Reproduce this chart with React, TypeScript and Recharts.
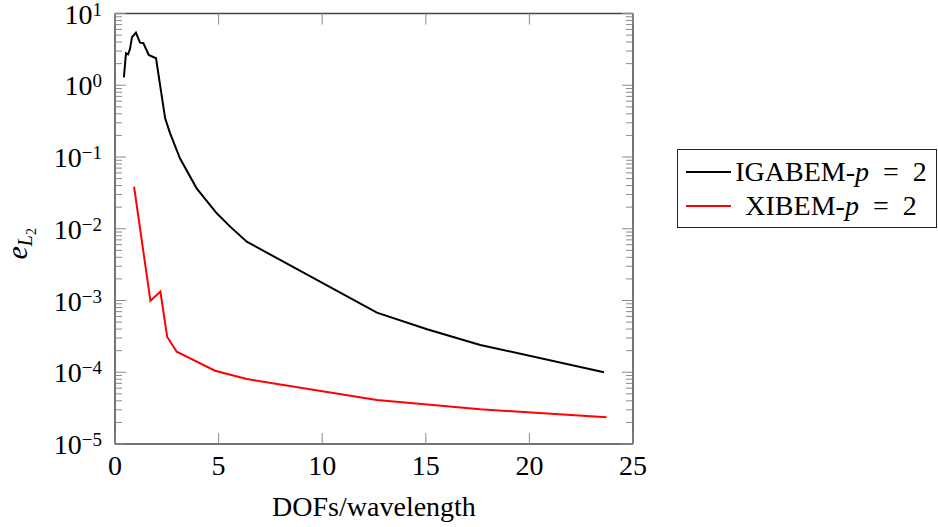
import React from 'react';
import { LineChart, Line, XAxis, YAxis, Legend, Label } from 'recharts';

// DOFs per wavelength and L2 error
const igabemDofs = [0.43, 0.53, 0.63, 0.72, 0.82, 1.01, 1.21, 1.37, 1.63, 1.98, 2.42, 2.66, 3.14, 3.94, 4.91, 5.56, 6.36, 12.64, 15.06, 17.63, 23.6];
const igabemErr = [1.29, 2.79, 2.7, 3.17, 4.66, 5.4, 3.92, 3.85, 2.64, 2.38, 0.346, 0.214, 0.095, 0.0366, 0.0164, 0.0107, 0.0066, 6.76e-4, 3.97e-4, 2.4e-4, 1.0e-4];

const xibemDofs = [0.92, 1.71, 2.19, 2.52, 2.98, 4.83, 6.36, 12.64, 17.63, 23.72];
const xibemErr = [0.0385, 9.9e-4, 1.33e-3, 3.1e-4, 1.93e-4, 1.05e-4, 8.05e-5, 4.1e-5, 3.04e-5, 2.36e-5];

const seriesNames = ['IGABEM-p = 2', 'XIBEM-p = 2'];
const seriesColors = ['#000000', '#ff0000'];

const xTicks = [0, 5, 10, 15, 20, 25];
const yExponents = [-5, -4, -3, -2, -1, 0, 1];

const yAll: number[] = [];
yExponents.forEach((e, i) => {
  yAll.push(Math.pow(10, e));
  if (i < yExponents.length - 1) {
    for (let m = 2; m <= 9; m++) yAll.push(m * Math.pow(10, e));
  }
});

const igabemData = igabemDofs.map((x, i) => ({ x, y: igabemErr[i] }));
const xibemData = xibemDofs.map((x, i) => ({ x, y: xibemErr[i] }));

const FONT = '"Liberation Serif", "Times New Roman", serif';
const TICK = '#8a8a8a';
const AXIS = '#444';

const isMajor = (v: number) => {
  const e = Math.log10(v);
  return Math.abs(e - Math.round(e)) < 1e-6;
};

const LeftTick = (props: any) => {
  const { x, y, payload } = props;
  const v = payload.value;
  const major = isMajor(v);
  const exp = Math.round(Math.log10(v));
  return (
    <g>
      <line x1={x} x2={x + (major ? 11 : 7)} y1={y} y2={y} stroke={TICK} strokeWidth={1} />
      {major && (
        <text x={x - 13} y={y + 10} textAnchor="end" fontFamily={FONT} fontSize={28} fill="#000">
          10
          <tspan dy={-8} fontSize={19}>{exp < 0 ? '\u2212' + Math.abs(exp) : String(exp)}</tspan>
        </text>
      )}
    </g>
  );
};

const RightTick = (props: any) => {
  const { x, y, payload } = props;
  const major = isMajor(payload.value);
  return <line x1={x} x2={x - (major ? 11 : 7)} y1={y} y2={y} stroke={TICK} strokeWidth={1} />;
};

const BottomTick = (props: any) => {
  const { x, y, payload } = props;
  return (
    <g>
      <line x1={x} x2={x} y1={y} y2={y - 11} stroke={TICK} strokeWidth={1} />
      <text x={x} y={y + 31} textAnchor="middle" fontFamily={FONT} fontSize={28} fill="#000">
        {payload.value}
      </text>
    </g>
  );
};

const TopTick = (props: any) => {
  const { x, y } = props;
  return <line x1={x} x2={x} y1={y} y2={y + 11} stroke={TICK} strokeWidth={1} />;
};

const renderLegend = (props: any) => {
  const { payload } = props;
  return (
    <div
      style={{
        border: '1px solid #222',
        background: '#fff',
        width: 260,
        height: 79,
        boxSizing: 'border-box',
        paddingTop: 5,
        paddingLeft: 8,
        fontFamily: FONT,
        fontSize: 28,
        color: '#000',
      }}
    >
      {payload.map((entry: any) => {
        const [name, rest] = String(entry.value).split('-p');
        return (
          <div key={entry.value} style={{ display: 'flex', alignItems: 'center', height: 34 }}>
            <svg width={45} height={6} style={{ display: 'block' }}>
              <line x1={0} x2={45} y1={3} y2={3} stroke={entry.color} strokeWidth={2} />
            </svg>
            <span style={{ width: 200, textAlign: 'center', lineHeight: '34px', whiteSpace: 'pre' }}>
              {name}-<i>p</i>
              {rest.replace(' = ', '\u2002=\u2002')}
            </span>
          </div>
        );
      })}
    </div>
  );
};

export default function App() {
  return (
    <div style={{ position: 'absolute', left: 0, top: 0, width: 938, height: 527, background: '#fff' }}>
      <LineChart width={938} height={527} margin={{ top: 12.5, right: 304, bottom: 0, left: 0 }}>
        <XAxis
          xAxisId="b"
          type="number"
          dataKey="x"
          domain={[0, 25]}
          ticks={xTicks}
          interval={0}
          allowDataOverflow
          height={83}
          tickSize={0}
          tickMargin={0}
          tickLine={false}
          axisLine={{ stroke: AXIS, strokeWidth: 1.5 }}
          tick={(p: any) => <BottomTick {...p} />}
        >
          <Label
            content={(p: any) => {
              const vb = p.viewBox;
              return (
                <text x={vb.x + vb.width / 2} y={vb.y + 72} textAnchor="middle" fontFamily={FONT} fontSize={28} fill="#000">
                  DOFs/wavelength
                </text>
              );
            }}
          />
        </XAxis>
        <XAxis
          xAxisId="t"
          orientation="top"
          type="number"
          dataKey="x"
          domain={[0, 25]}
          ticks={xTicks}
          interval={0}
          allowDataOverflow
          height={1}
          tickSize={0}
          tickMargin={0}
          tickLine={false}
          axisLine={{ stroke: AXIS, strokeWidth: 1.5 }}
          tick={(p: any) => <TopTick {...p} />}
        />
        <YAxis
          yAxisId="l"
          type="number"
          scale="log"
          domain={[1e-5, 10]}
          ticks={yAll}
          interval={0}
          allowDataOverflow
          width={115}
          tickSize={0}
          tickMargin={0}
          tickLine={false}
          axisLine={{ stroke: AXIS, strokeWidth: 1.5 }}
          tick={(p: any) => <LeftTick {...p} />}
        >
          <Label
            content={(p: any) => {
              const vb = p.viewBox;
              const cy = vb.y + vb.height / 2 + 15;
              return (
                <text
                  transform={`translate(27, ${cy}) rotate(-90)`}
                  textAnchor="middle"
                  fontFamily={FONT}
                  fontSize={30}
                  fill="#000"
                >
                  <tspan fontStyle="italic">e</tspan>
                  <tspan fontStyle="italic" fontSize={20} dy={5}>L</tspan>
                  <tspan fontSize={14} dy={4}>2</tspan>
                </text>
              );
            }}
          />
        </YAxis>
        <YAxis
          yAxisId="r"
          orientation="right"
          type="number"
          scale="log"
          domain={[1e-5, 10]}
          ticks={yAll}
          interval={0}
          allowDataOverflow
          width={1}
          tickSize={0}
          tickMargin={0}
          tickLine={false}
          axisLine={{ stroke: AXIS, strokeWidth: 1.5 }}
          tick={(p: any) => <RightTick {...p} />}
        />
        <Line
          xAxisId="b"
          yAxisId="l"
          data={igabemData}
          dataKey="y"
          name={seriesNames[0]}
          stroke={seriesColors[0]}
          strokeWidth={2}
          dot={false}
          isAnimationActive={false}
        />
        <Line
          xAxisId="b"
          yAxisId="l"
          data={xibemData}
          dataKey="y"
          name={seriesNames[1]}
          stroke={seriesColors[1]}
          strokeWidth={2}
          dot={false}
          isAnimationActive={false}
        />
        <Legend
          layout="vertical"
          align="center"
          verticalAlign="middle"
          content={renderLegend}
          wrapperStyle={{ left: 677, top: 149, width: 260, height: 79 }}
        />
      </LineChart>
    </div>
  );
}
